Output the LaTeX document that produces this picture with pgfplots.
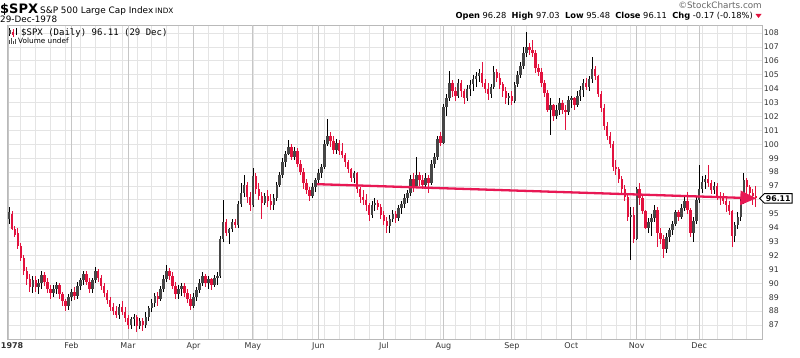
\documentclass[border=0pt]{standalone}
\usepackage{fontspec}
\setmainfont{DejaVu Sans}
\newfontfamily\monofont{DejaVu Sans Mono}
\usepackage{pgfplots}
\pgfplotsset{compat=1.18}
\usepackage{pgfplotstable}
\usetikzlibrary{arrows.meta,shapes.symbols}
\definecolor{cRed}{RGB}{226,18,62}
\definecolor{cTrend}{RGB}{232,24,84}
\definecolor{cBody}{RGB}{70,70,70}
\definecolor{gWeek}{RGB}{228,228,228}
\definecolor{gMonth}{RGB}{198,198,198}
\definecolor{gFrame}{RGB}{185,185,185}

\pgfplotstableread{
i O H L C r
0 94.6 95.5 94.3 95.1 0
1 95.0 95.2 93.8 93.9 1
2 93.9 94.1 93.3 93.5 1
3 93.6 94.0 92.5 92.7 1
4 92.7 92.9 91.6 91.8 1
5 91.8 92.0 90.6 90.9 1
6 90.9 91.2 89.9 90.3 1
7 90.3 90.7 89.4 89.7 1
8 89.7 90.5 89.3 90.2 0
9 90.2 90.5 89.4 89.7 1
10 89.7 90.3 89.2 90.0 0
11 90.0 90.9 89.6 90.6 0
12 90.6 90.8 89.8 90.1 1
13 90.1 90.4 89.3 89.6 1
14 89.6 89.9 88.9 89.3 1
15 89.3 89.9 89.0 89.6 0
16 89.6 90.1 89.2 89.9 0
17 89.9 90.0 88.9 89.2 1
18 89.2 89.4 88.4 88.7 1
19 88.7 88.9 88.0 88.4 1
20 88.4 89.2 88.1 89.0 0
21 89.0 89.6 88.7 89.4 0
22 89.4 89.7 88.8 89.1 1
23 89.1 90.1 88.9 89.8 0
24 89.8 90.4 89.5 90.2 0
25 90.2 90.9 89.9 90.7 0
26 90.7 90.9 89.9 90.1 1
27 90.1 90.4 89.3 89.6 1
28 89.6 90.4 89.3 90.2 0
29 90.2 91.2 90.0 90.9 0
30 90.9 91.0 90.1 90.4 1
31 90.4 90.6 89.5 89.8 1
32 89.8 90.0 89.0 89.3 1
33 89.3 89.5 88.5 88.8 1
34 88.8 89.0 88.0 88.3 1
35 88.3 88.6 87.7 88.0 1
36 88.0 88.4 87.5 87.7 1
37 87.7 88.5 87.4 88.3 0
38 88.3 88.7 87.7 87.9 1
39 87.9 88.3 87.2 87.5 1
40 87.5 87.7 86.7 87.0 1
41 87.0 87.6 86.7 87.4 0
42 87.4 87.8 86.9 87.6 0
43 87.6 87.7 86.5 86.9 1
44 86.9 87.5 86.7 87.3 0
45 87.3 87.5 86.6 87.0 1
46 87.0 87.9 86.8 87.6 0
47 87.6 88.4 87.3 88.2 0
48 88.2 88.9 87.9 88.6 0
49 88.6 89.3 88.3 89.1 0
50 89.1 89.4 88.4 88.9 1
51 88.9 89.8 88.7 89.6 0
52 89.6 90.6 89.4 90.3 0
53 90.3 91.3 90.1 90.9 0
54 90.9 91.1 90.2 90.5 1
55 90.5 90.8 89.6 89.8 1
56 89.8 90.1 88.9 89.2 1
57 89.2 89.9 88.9 89.6 0
58 89.6 90.0 89.1 89.8 0
59 89.8 90.0 89.0 89.3 1
60 89.3 89.6 88.6 88.9 1
61 88.9 89.2 88.1 88.4 1
62 88.4 89.3 88.2 89.0 0
63 89.0 89.7 88.7 89.5 0
64 89.5 90.3 89.3 90.0 0
65 90.0 90.8 89.8 90.5 0
66 90.5 90.7 89.7 90.0 1
67 90.0 90.5 89.6 90.3 0
68 90.3 90.4 89.5 89.9 1
69 89.9 90.6 89.7 90.4 0
70 90.4 90.8 89.9 90.5 0
71 90.5 93.4 90.4 93.2 0
72 93.2 96.0 93.0 94.4 0
73 94.4 94.6 93.4 93.6 1
74 93.6 94.0 92.8 93.9 0
75 93.9 94.6 93.7 94.4 0
76 94.4 94.6 94.0 94.2 1
77 94.2 95.9 94.0 95.7 0
78 95.7 97.2 95.5 96.5 0
79 96.5 97.8 96.2 97.1 0
80 97.1 97.3 95.8 96.2 1
81 96.2 96.6 95.2 95.6 1
82 95.6 98.3 95.5 97.7 0
83 97.7 97.9 96.4 96.8 1
84 96.8 97.2 96.0 96.3 1
85 96.3 96.6 94.6 95.8 1
86 95.8 96.5 95.6 96.3 0
87 96.3 96.7 95.5 95.9 1
88 95.9 96.4 95.3 95.6 1
89 95.6 96.4 95.3 96.1 0
90 96.1 97.3 95.9 97.1 0
91 97.1 98.0 96.9 97.8 0
92 97.8 99.0 97.6 98.7 0
93 98.7 99.5 98.4 99.3 0
94 99.3 100.3 99.2 99.8 0
95 99.8 100.0 98.9 99.1 1
96 99.1 99.8 98.9 99.5 0
97 99.5 99.7 98.4 98.6 1
98 98.6 98.9 97.8 98.0 1
99 98.0 98.3 96.8 97.2 1
100 97.2 97.5 96.4 96.7 1
101 96.7 96.9 95.9 96.3 1
102 96.3 97.2 96.1 96.9 0
103 96.9 97.6 96.6 97.4 0
104 97.4 98.2 97.1 97.9 0
105 97.9 98.6 97.6 98.4 0
106 98.4 100.3 98.2 100.0 0
107 100.0 101.8 99.9 100.6 0
108 100.6 100.9 99.8 100.2 1
109 100.2 100.6 99.3 99.6 1
110 99.6 100.4 99.3 100.1 0
111 100.1 100.3 99.2 99.5 1
112 99.5 100.1 99.0 99.2 1
113 99.2 99.4 98.4 98.7 1
114 98.7 98.9 97.9 98.2 1
115 98.2 98.3 97.3 97.6 1
116 97.6 98.1 97.2 97.9 0
117 97.9 98.0 96.5 96.8 1
118 96.8 96.9 95.8 96.2 1
119 96.2 96.7 95.6 96.0 1
120 96.0 96.4 95.2 95.6 1
121 95.6 95.8 94.5 94.9 1
122 94.9 95.9 94.7 95.6 0
123 95.6 96.1 95.2 95.8 0
124 95.8 96.0 95.3 95.5 1
125 95.5 95.7 94.6 94.9 1
126 94.9 95.2 94.2 94.5 1
127 94.5 94.8 93.6 94.1 1
128 94.1 94.9 93.6 94.6 0
129 94.6 95.3 94.4 95.0 0
130 95.0 95.2 94.3 94.7 1
131 94.7 95.6 94.5 95.4 0
132 95.4 95.9 95.0 95.7 0
133 95.7 96.4 95.4 96.1 0
134 96.1 96.7 95.8 96.5 0
135 96.5 97.8 96.3 97.5 0
136 97.5 97.9 96.6 97.0 1
137 97.0 99.1 96.9 97.8 0
138 97.8 98.0 97.0 97.4 1
139 97.4 97.8 96.8 97.1 1
140 97.1 97.9 96.9 97.6 0
141 97.6 97.8 96.5 97.2 1
142 97.2 98.9 97.1 98.6 0
143 98.6 99.4 98.3 99.1 0
144 99.1 100.6 98.9 100.4 0
145 100.6 100.9 99.9 100.1 1
146 100.1 102.9 100.0 102.7 0
147 102.7 103.6 102.0 103.3 0
148 103.3 105.3 103.1 104.4 0
149 104.4 104.6 103.4 103.8 1
150 103.8 104.1 103.1 103.5 1
151 103.5 104.7 103.3 104.4 0
152 104.4 104.6 103.4 103.8 1
153 103.8 104.0 102.9 103.3 1
154 103.3 104.3 103.1 104.0 0
155 104.0 104.6 103.5 104.3 0
156 104.3 105.0 103.8 104.7 0
157 104.7 105.2 104.1 104.9 0
158 104.9 105.4 104.5 105.1 0
159 105.1 105.9 104.1 104.4 1
160 104.4 104.7 103.7 104.0 1
161 104.0 104.4 103.2 103.6 1
162 103.6 104.3 103.3 104.1 0
163 104.1 105.6 104.0 105.2 0
164 105.2 105.4 104.5 104.8 1
165 104.8 105.1 104.0 104.3 1
166 104.3 104.5 103.4 103.8 1
167 103.8 104.1 102.9 103.3 1
168 103.3 103.7 102.8 103.5 0
169 103.5 103.8 102.8 103.1 1
170 103.1 104.5 103.0 104.3 0
171 104.3 105.3 104.1 105.0 0
172 105.0 105.9 104.8 105.6 0
173 105.6 107.0 105.4 106.6 0
174 106.6 108.1 106.3 107.0 0
175 107.0 107.3 106.4 106.8 1
176 106.8 107.5 106.3 106.6 1
177 106.6 106.8 105.1 105.5 1
178 105.5 105.8 104.9 105.2 1
179 105.2 105.5 104.1 104.4 1
180 104.4 104.6 103.4 103.7 1
181 103.7 103.9 102.3 102.5 1
182 102.5 103.3 100.7 102.8 0
183 102.8 102.9 101.7 102.0 1
184 102.0 102.8 101.8 102.5 0
185 102.5 103.3 102.1 103.0 0
186 103.0 103.2 102.2 102.5 1
187 102.5 102.8 101.0 102.3 1
188 102.3 103.5 102.1 103.2 0
189 103.2 103.5 102.6 103.3 0
190 103.3 103.4 102.5 102.8 1
191 102.8 103.8 102.7 103.5 0
192 103.5 104.2 103.1 103.9 0
193 103.9 104.7 103.4 104.4 0
194 104.4 104.8 103.9 104.1 1
195 104.1 104.9 103.8 104.7 0
196 104.7 106.3 104.4 105.4 0
197 105.4 105.6 104.6 104.9 1
198 104.9 105.0 103.4 103.6 1
199 103.6 103.8 102.3 102.6 1
200 102.6 102.9 101.0 101.3 1
201 101.3 101.6 100.3 100.6 1
202 100.6 100.9 99.7 100.0 1
203 100.0 100.2 98.1 98.4 1
204 98.4 98.9 97.8 98.2 1
205 98.2 98.4 97.2 97.5 1
206 97.5 97.7 96.5 96.8 1
207 96.8 97.1 95.9 96.2 1
208 96.2 96.4 94.5 94.8 1
209 94.8 95.5 91.7 94.9 0
210 94.9 95.5 92.9 93.2 1
211 93.2 96.9 93.1 96.8 0
212 96.8 97.2 95.6 96.1 1
213 96.1 96.3 95.0 95.2 1
214 95.2 95.3 93.9 94.0 1
215 94.0 94.7 93.6 94.4 0
216 94.4 95.0 93.4 94.7 0
217 94.7 95.6 94.4 95.3 0
218 95.3 95.5 92.6 93.6 1
219 93.6 94.0 92.8 93.2 1
220 93.2 93.5 91.8 92.5 1
221 92.5 93.6 92.2 93.3 0
222 93.3 94.0 93.0 93.8 0
223 93.8 94.5 93.5 94.3 0
224 94.3 95.3 94.1 95.1 0
225 95.1 95.3 94.5 94.8 1
226 94.8 95.7 94.6 95.4 0
227 95.4 96.2 95.2 95.9 0
228 95.9 96.6 95.0 95.3 1
229 95.3 95.4 93.3 93.6 1
230 93.6 94.8 93.0 94.5 0
231 94.5 96.3 94.3 96.0 0
232 96.0 98.5 95.8 96.8 0
233 96.8 97.7 96.5 97.3 0
234 97.3 97.8 96.8 97.5 0
235 97.5 98.5 96.9 97.2 1
236 97.2 97.4 96.4 96.7 1
237 96.7 97.3 96.4 97.0 0
238 97.0 97.2 96.0 96.3 1
239 96.3 96.6 95.6 96.1 1
240 96.1 96.5 95.7 95.9 1
241 95.9 96.2 95.1 95.6 1
242 95.6 95.9 94.9 95.2 1
243 95.2 95.3 92.6 93.4 1
244 93.4 94.4 93.0 94.2 0
245 94.2 95.1 93.9 94.8 0
246 94.8 96.2 94.5 95.9 0
247 95.9 97.9 95.7 97.4 0
248 97.4 97.6 96.3 96.9 1
249 96.9 97.1 95.9 96.5 1
250 96.5 96.8 95.6 96.28 1
251 96.28 97.03 95.48 96.11 1
}\spx

\begin{document}
\begin{tikzpicture}
\useasboundingbox (0pt,0pt) rectangle (800pt,357pt);
% header
\node[anchor=base west, inner sep=0pt] at (0pt,343pt) {\fontsize{13}{13}\selectfont\bfseries \$SPX};
\node[anchor=base west, inner sep=0pt] at (40pt,343pt) {\fontsize{8.9}{10}\selectfont S\&P 500 Large Cap Index};
\node[anchor=base west, inner sep=0pt] at (155pt,343pt) {\fontsize{7.3}{8}\selectfont INDX};
\node[anchor=base west, inner sep=0pt] at (0pt,334pt) {\fontsize{8.8}{10}\selectfont 29-Dec-1978};
\node[anchor=base east, inner sep=0pt, text=black!60] at (762pt,348pt) {\fontsize{8.8}{10}\selectfont \textcopyright StockCharts.com};
\node[anchor=base east, inner sep=0pt] at (753pt,338pt) {\fontsize{8.3}{10}\selectfont \textbf{Open} 96.28\ \ \textbf{High} 97.03\ \ \textbf{Low} 95.48\ \ \textbf{Close} 96.11\ \ \textbf{Chg} -0.17 (-0.18\%)};
\fill[cRed] (755.5pt,343pt) -- (761.5pt,343pt) -- (758.5pt,339pt) -- cycle;
\begin{axis}[
  at={(7pt,18pt)}, anchor=south west,
  scale only axis, width=755pt, height=314pt,
  xmin=-0.67, xmax=253.1, ymin=85.99, ymax=108.58,
  clip=false,
  axis line style={draw=gFrame, line width=0.8pt},
  xtick={4,9,14,19,24,29,34,38,43,48,53,57,62,67,72,77,82,87,92,97,102,106,111,116,121,126,130,135,140,145,150,155,160,165,170,174,179,184,189,194,199,204,209,214,219,224,228,233,238,243,248},
  xticklabels={},
  ytick={87,88,...,108},
  yticklabels={87,88,89,90,91,92,93,94,95,{},97,98,99,100,101,102,103,104,105,106,107,108},
  yticklabel pos=right,
  major tick length=0pt,
  xmajorgrids, ymajorgrids,
  major grid style={draw=gWeek, line width=0.8pt},
  extra x ticks={0,21,40,62,82,104,126,146,169,189,211,232},
  extra x tick labels={\makebox[0pt][l]{\kern-8pt\bfseries 1978},Feb,Mar,Apr,May,Jun,Jul,Aug,Sep,Oct,Nov,Dec},
  extra x tick style={major grid style={draw=gMonth, line width=1pt}},
  xticklabel style={font=\fontsize{8}{9}\selectfont, text=black!80},
  yticklabel style={font=\fontsize{7.8}{9}\selectfont, anchor=east, inner sep=0pt, xshift=17pt, text=black!80},
]
% wicks
\addplot[forget plot, draw=none, mark=none, restrict expr to domain={\thisrow{r}}{-0.5:0.5},
  error bars/.cd, y dir=both, y explicit, error mark=none, error bar style={draw=black, line width=0.9pt}]
  table[x=i, y expr={(\thisrow{H}+\thisrow{L})/2}, y error expr={(\thisrow{H}-\thisrow{L})/2}] {\spx};
\addplot[forget plot, draw=none, mark=none, restrict expr to domain={\thisrow{r}}{0.5:1.5},
  error bars/.cd, y dir=both, y explicit, error mark=none, error bar style={draw=cRed, line width=0.9pt}]
  table[x=i, y expr={(\thisrow{H}+\thisrow{L})/2}, y error expr={(\thisrow{H}-\thisrow{L})/2}] {\spx};
% bodies
\addplot[forget plot, draw=none, mark=none, restrict expr to domain={\thisrow{r}}{-0.5:0.5},
  error bars/.cd, y dir=both, y explicit, error mark=none, error bar style={draw=cBody, line width=2.5pt}]
  table[x=i, y expr={(\thisrow{O}+\thisrow{C})/2}, y error expr={max(abs(\thisrow{O}-\thisrow{C})/2,0.07)}] {\spx};
\addplot[forget plot, draw=none, mark=none, restrict expr to domain={\thisrow{r}}{0.5:1.5},
  error bars/.cd, y dir=both, y explicit, error mark=none, error bar style={draw=cRed, line width=2.5pt}]
  table[x=i, y expr={(\thisrow{O}+\thisrow{C})/2}, y error expr={max(abs(\thisrow{O}-\thisrow{C})/2,0.07)}] {\spx};
% trend line
\addplot[cTrend, line width=2.3pt, -{Triangle[length=16pt,width=14pt]}] coordinates {(103.5,97.13) (251.2,96.11)};
\node[signal, signal to=west, draw=black, line width=0.9pt, fill=white, inner xsep=1.5pt, inner ysep=1.8pt, anchor=west, font=\bfseries\fontsize{7.8}{8}\selectfont] at (axis cs:252.1,96.11) {96.11};
\end{axis}
% legend inside the chart
\draw[black, line width=0.7pt] (9.5pt,321pt) -- (9.5pt,329pt);
\fill[cBody] (8.5pt,322.5pt) rectangle (10.5pt,327pt);
\draw[cRed, line width=0.7pt] (13pt,320pt) -- (13pt,328pt);
\fill[cRed] (12pt,321.5pt) rectangle (14pt,325pt);
\draw[black, line width=0.7pt] (16.5pt,322pt) -- (16.5pt,329pt);
\node[anchor=base west, inner sep=0pt] at (21pt,321pt) {\monofont\fontsize{9}{9}\selectfont \$SPX (Daily) 96.11 (29 Dec)};
\fill[black!70] (8.5pt,313pt) rectangle (9.7pt,317pt);
\fill[black!70] (10.7pt,313pt) rectangle (11.9pt,319pt);
\fill[black!70] (12.9pt,313pt) rectangle (14.1pt,316pt);
\fill[black!70] (15.1pt,313pt) rectangle (16.3pt,318pt);
\node[anchor=base west, inner sep=0pt] at (18pt,313.5pt) {\fontsize{7.3}{8}\selectfont Volume undef};
\end{tikzpicture}
\end{document}
